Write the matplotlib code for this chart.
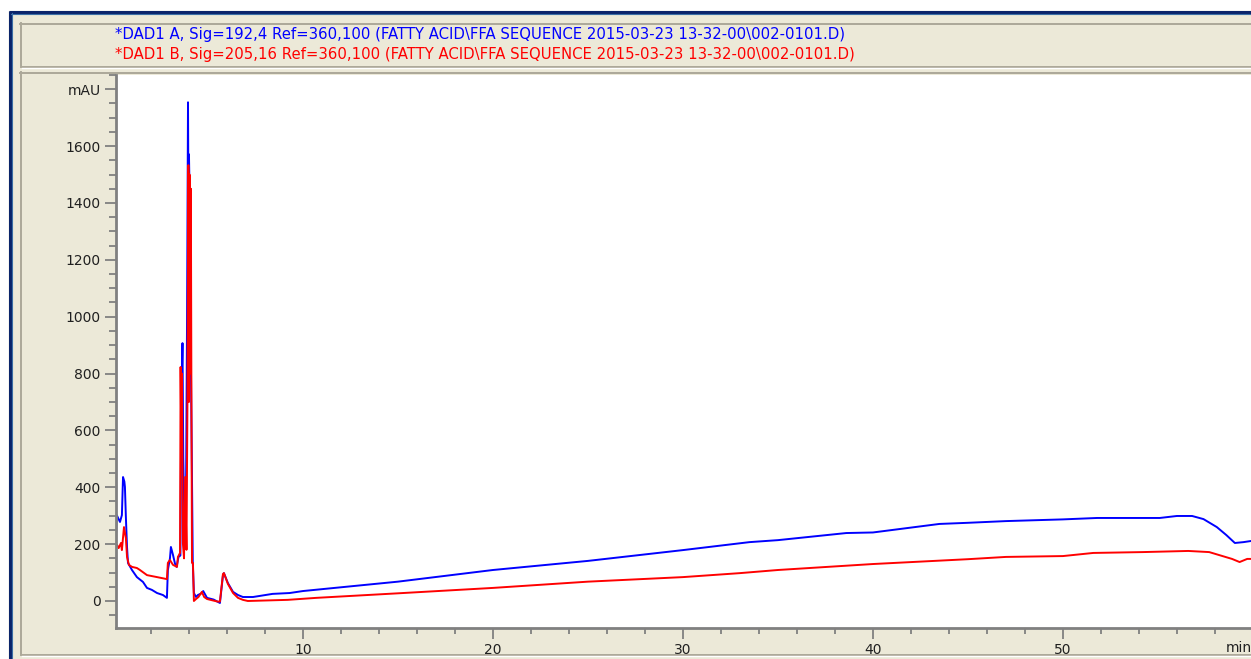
import matplotlib.pyplot as plt
from matplotlib.patches import Rectangle

# DAD1 A (Sig=192,4): retention time [min] / absorbance [mAU]
t_a = [0.16, 0.20, 0.37, 0.47, 0.53, 0.60, 0.63, 0.68, 0.74, 0.79, 1.00, 1.26,
       1.58, 1.79, 2.05, 2.32, 2.63, 2.84, 2.89, 3.00, 3.05, 3.16, 3.27, 3.35,
       3.45, 3.55, 3.60, 3.66, 3.70, 3.78, 3.84, 3.90, 3.95, 3.97, 4.00, 4.03,
       4.08, 4.15, 4.20, 4.26, 4.37, 4.47, 4.60, 4.68, 4.75, 4.95, 5.30, 5.63,
       5.79, 5.84, 6.05, 6.32, 6.58, 6.84, 7.37, 8.40, 9.30, 10.0, 15.0, 20.0,
       25.0, 30.0, 33.5, 35.0, 38.6, 40.0, 43.5, 45.0, 47.0, 50.0, 51.8, 55.1,
       56.0, 56.8, 57.4, 58.1, 58.6, 59.05, 59.5, 59.9]
a_mau = [232, 302, 278, 302, 436, 420, 401, 295, 190, 134, 109, 84,
         67, 46, 39, 28, 21, 11, 109, 150, 190, 162, 130, 120,
         155, 160, 718, 907, 506, 204, 300, 1000, 1754, 1438, 1571, 1450,
         1000, 500, 140, 28, 14, 21, 25, 28, 35, 11, 5, -7,
         90, 98, 63, 32, 21, 14, 14, 25, 28, 35, 68, 109,
         141, 179, 207, 214, 239, 241, 271, 275, 281, 287, 292, 292,
         299, 299, 288, 260, 232, 204, 207, 211]

# DAD1 B (Sig=205,16)
t_b = [0.16, 0.22, 0.30, 0.42, 0.47, 0.58, 0.68, 0.74, 0.84, 1.00, 1.26, 1.42,
       1.79, 2.32, 2.84, 2.89, 3.00, 3.16, 3.37, 3.42, 3.53, 3.56, 3.60, 3.63,
       3.68, 3.74, 3.80, 3.87, 3.92, 3.97, 4.00, 4.03, 4.06, 4.10, 4.13, 4.16,
       4.21, 4.26, 4.37, 4.50, 4.68, 4.80, 4.95, 5.50, 5.63, 5.79, 5.84, 6.05,
       6.32, 6.58, 6.84, 7.10, 9.20, 10.7, 15.0, 20.0, 25.0, 30.0, 33.0, 35.0,
       40.0, 45.0, 47.0, 50.0, 51.6, 54.2, 56.6, 57.7, 58.2, 58.9, 59.3, 59.7,
       59.9]
b_mau = [186, 197, 186, 204, 179, 260, 221, 155, 127, 120, 116, 109,
         91, 84, 77, 134, 144, 127, 120, 155, 169, 823, 541, 800,
         204, 150, 436, 180, 700, 1533, 700, 1500, 800, 1450, 700, 134,
         134, 0, 7, 14, 32, 14, 7, -2, -2, 95, 98, 60,
         28, 11, 4, 0, 4, 11, 27, 46, 68, 84, 98, 109,
         130, 147, 155, 158, 169, 172, 176, 172, 162, 148, 137, 148,
         148]

y_ticks = [0, 200, 400, 600, 800, 1000, 1200, 1400, 1600, 1800]
y_labels = ['0', '200', '400', '600', '800', '1000', '1200', '1400', '1600', 'mAU']
x_ticks = [10, 20, 30, 40, 50]

title_a = '*DAD1 A, Sig=192,4 Ref=360,100 (FATTY ACID\\FFA SEQUENCE 2015-03-23 13-32-00\\002-0101.D)'
title_b = '*DAD1 B, Sig=205,16 Ref=360,100 (FATTY ACID\\FFA SEQUENCE 2015-03-23 13-32-00\\002-0101.D)'

W, H = 1251, 659
beige = '#ece9d8'
frame = '#aca899'
fig = plt.figure(figsize=(W / 100, H / 100), dpi=100)

# window chrome drawn in pixel coordinates
bg = fig.add_axes([0, 0, 1, 1])
bg.set_xlim(0, W)
bg.set_ylim(H, 0)
bg.axis('off')
bg.add_patch(Rectangle((0, 0), W, H, color='white'))
bg.add_patch(Rectangle((9, 11), W, H, color=beige))
bg.plot([9.5, 9.5], [11, H], color='#0a246a', lw=2.2, solid_capstyle='butt')
bg.plot([9, W], [11.5, 11.5], color='#0a246a', lw=2.2, solid_capstyle='butt')
bg.plot([11.5, 11.5], [13, H], color='#3a6ea5', lw=0.8)
bg.plot([11, W], [13.5, 13.5], color='#3a6ea5', lw=0.8)

# sunken frames around the header and the chart panel
for top, bottom in [(23, 67), (72, 655)]:
    bg.plot([20.5, 20.5], [top, bottom], color=frame, lw=1.4)
    bg.plot([20, W], [top + 0.5, top + 0.5], color=frame, lw=1.4)
    bg.plot([22, W], [bottom - 0.5, bottom - 0.5], color=frame, lw=1.4)
    bg.plot([22, W], [bottom + 1, bottom + 1], color='white', lw=1.0)

bg.text(115, 35, title_a, color='#0000ff', fontsize=10.7, va='center', ha='left')
bg.text(115, 55, title_b, color='#ff0000', fontsize=10.7, va='center', ha='left')
bg.text(1226, 648, 'min', color='#202020', fontsize=10, va='center', ha='left')

# chromatogram axes
ax = fig.add_axes([116 / W, 1 - 628 / H, 1 - 116 / W, (628 - 75) / H])
ax.set_facecolor('white')
ax.plot(t_a, a_mau, color='#0000ff', lw=1.4)
ax.plot(t_b, b_mau, color='#ff0000', lw=1.4)
ax.set_xlim(0.16, 59.9)
ax.set_ylim(-95, 1849)

ax.set_yticks(y_ticks)
ax.set_yticklabels(y_labels)
ax.set_yticks(range(-50, 1851, 50), minor=True)
ax.set_xticks(x_ticks)
ax.set_xticks(range(2, 60, 2), minor=True)
ax.tick_params(which='both', color='#808080', width=1.3, labelsize=10,
               labelcolor='#202020')
ax.tick_params(which='major', length=8, pad=3)
ax.tick_params(which='minor', length=5)
ax.tick_params(axis='x', which='minor', length=4)

for side in ['top', 'right']:
    ax.spines[side].set_visible(False)
for side in ['left', 'bottom']:
    ax.spines[side].set_color('#808080')
    ax.spines[side].set_linewidth(2)

fig.savefig('out.png', dpi=100)
